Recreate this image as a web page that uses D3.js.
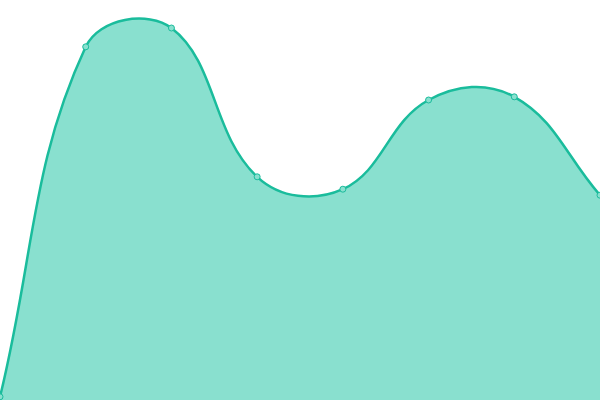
<!DOCTYPE html>
<html>
<head>
<meta charset="utf-8">
<script src="https://cdn.jsdelivr.net/npm/d3@7"></script>
<style>
  html, body { margin: 0; padding: 0; background: #fff; }
  svg { display: block; }
</style>
</head>
<body>
<svg id="chart" width="600" height="400"></svg>
<script>
// Data
const categories = ["1", "2", "3", "4", "5", "6", "7", "8"];
const values = [0.8, 88.3, 93.0, 55.8, 52.7, 75.0, 75.8, 51.2];
const yDomain = [0, 100];

const W = 600, H = 400;
const TENSION = 0.4;

// Custom curve: spline with distance-weighted control points (tension 0.4)
function SplineCurve(context) { this._context = context; }
SplineCurve.prototype = {
  areaStart() { this._line = 0; },
  areaEnd() { this._line = NaN; },
  lineStart() { this._pts = []; },
  point(x, y) { this._pts.push([+x, +y]); },
  lineEnd() {
    const p = this._pts, n = p.length, ctx = this._context;
    if (n) {
      if (this._line) ctx.lineTo(p[0][0], p[0][1]); else ctx.moveTo(p[0][0], p[0][1]);
      const cps = p.map((cur, i) => {
        const prev = p[Math.max(i - 1, 0)], next = p[Math.min(i + 1, n - 1)];
        const d01 = Math.hypot(cur[0] - prev[0], cur[1] - prev[1]);
        const d12 = Math.hypot(next[0] - cur[0], next[1] - cur[1]);
        let s01 = d01 / (d01 + d12), s12 = d12 / (d01 + d12);
        if (!isFinite(s01)) s01 = 0;
        if (!isFinite(s12)) s12 = 0;
        const fa = TENSION * s01, fb = TENSION * s12;
        const clampX = v => Math.max(0, Math.min(W, v));
        const clampY = v => Math.max(0, Math.min(H, v));
        return {
          px: clampX(cur[0] - fa * (next[0] - prev[0])),
          py: clampY(cur[1] - fa * (next[1] - prev[1])),
          nx: clampX(cur[0] + fb * (next[0] - prev[0])),
          ny: clampY(cur[1] + fb * (next[1] - prev[1]))
        };
      });
      for (let i = 1; i < n; i++) {
        ctx.bezierCurveTo(cps[i - 1].nx, cps[i - 1].ny, cps[i].px, cps[i].py, p[i][0], p[i][1]);
      }
    }
    if (this._line || (this._line !== 0 && n === 1)) ctx.closePath();
    this._line = 1 - this._line;
  }
};
const curveSpline = ctx => new SplineCurve(ctx);

const svg = d3.select("#chart");
const x = d3.scalePoint().domain(categories).range([0, W]);
const y = d3.scaleLinear().domain(yDomain).range([H, 0]);

const data = categories.map((c, i) => ({ c, v: values[i] }));

const area = d3.area()
  .x(d => x(d.c))
  .y0(y(yDomain[0]))
  .y1(d => y(d.v))
  .curve(curveSpline);

const line = d3.line()
  .x(d => x(d.c))
  .y(d => y(d.v))
  .curve(curveSpline);

svg.append("path")
  .datum(data)
  .attr("d", area)
  .attr("fill", "#89e0cf");

svg.append("path")
  .datum(data)
  .attr("d", line)
  .attr("fill", "none")
  .attr("stroke", "#1abc9c")
  .attr("stroke-width", 2.5);

svg.selectAll("circle")
  .data(data)
  .enter().append("circle")
  .attr("cx", d => x(d.c))
  .attr("cy", d => y(d.v))
  .attr("r", 3)
  .attr("fill", "#89e0cf")
  .attr("stroke", "#1abc9c")
  .attr("stroke-width", 1);
</script>
</body>
</html>
